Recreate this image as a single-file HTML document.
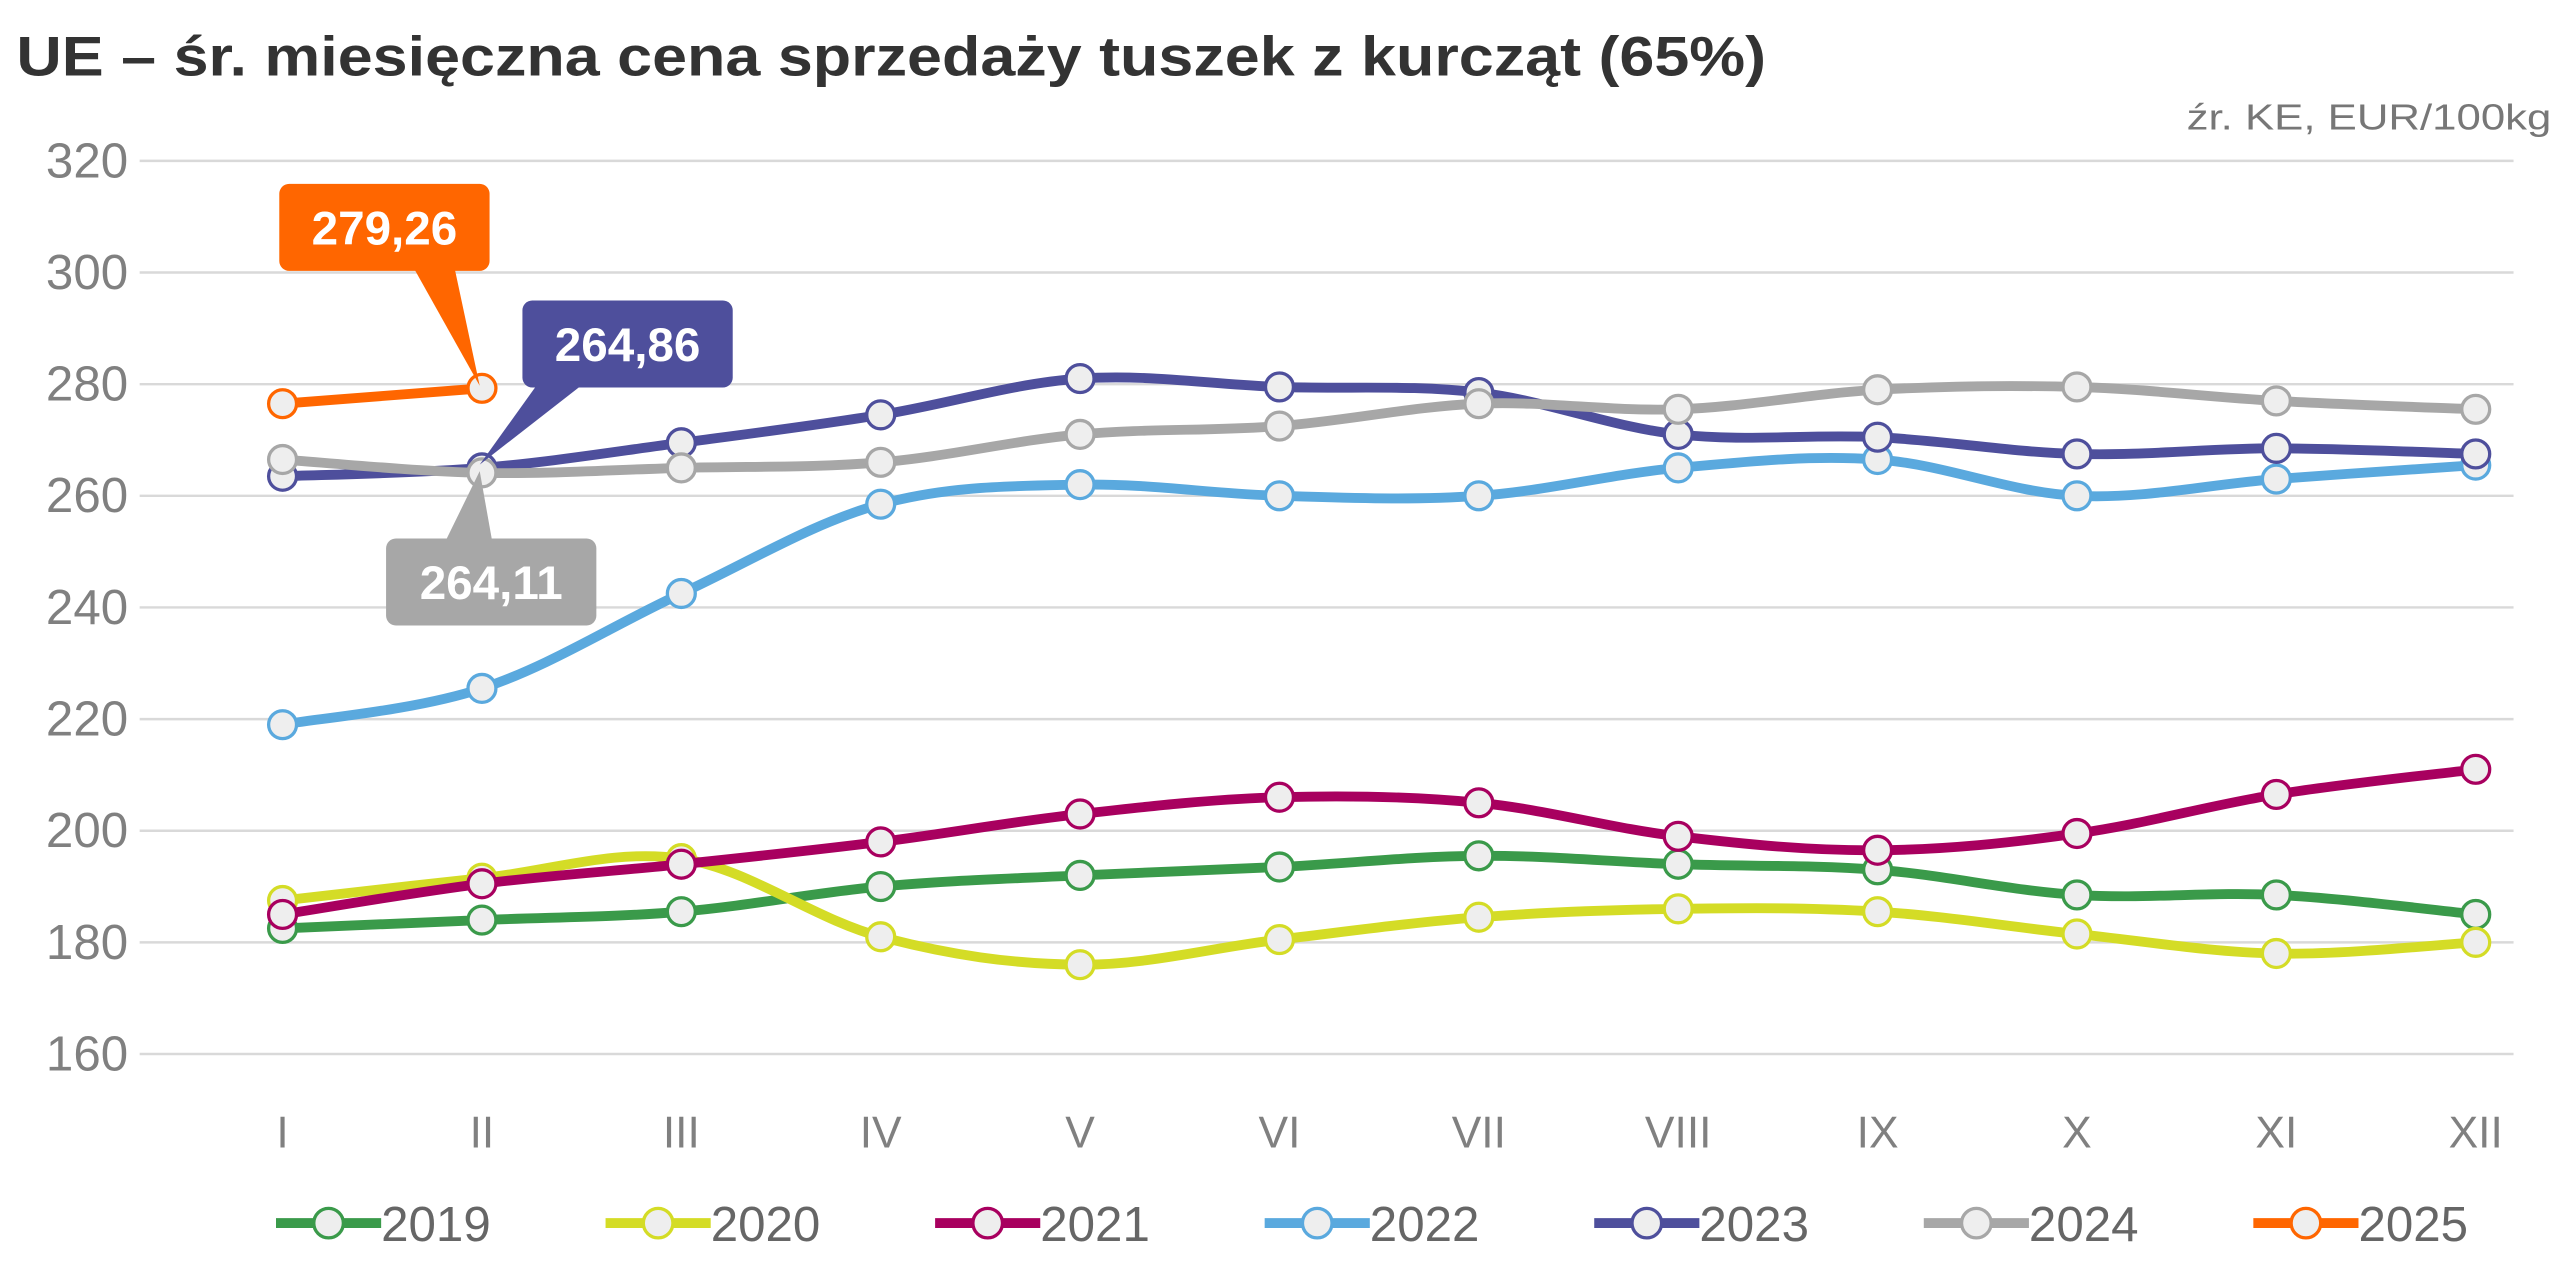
<!DOCTYPE html>
<html><head><meta charset="utf-8"><style>
html,body{margin:0;padding:0;background:#fff}
svg{display:block}
text{font-family:"Liberation Sans","DejaVu Sans",sans-serif}
</style></head><body>
<svg id="s" width="2576" height="1274" viewBox="0 0 1568 776" preserveAspectRatio="none" xmlns="http://www.w3.org/2000/svg">
<rect width="1568" height="776" fill="#fff"/>
<text x="10" y="46" font-size="34" font-weight="bold" fill="#333" textLength="1065" lengthAdjust="spacingAndGlyphs">UE – śr. miesięczna cena sprzedaży tuszek z kurcząt (65%)</text>
<text x="1553" y="79" font-size="22" fill="#777" text-anchor="end" textLength="222" lengthAdjust="spacingAndGlyphs">źr. KE, EUR/100kg</text>
<g id="grid"></g>
<g id="series"></g>
<g id="ann">
<polygon points="250,160 276,160 292,235" fill="#ff6600"/>
<rect x="170" y="112" width="128" height="53" rx="6" fill="#ff6600"/>
<text x="234" y="149" font-size="29" font-weight="bold" fill="#fff" text-anchor="middle">279,26</text>
<polygon points="330,230 360,230 292,283" fill="#4e4f9c"/>
<rect x="318" y="183" width="128" height="53" rx="6" fill="#4e4f9c"/>
<text x="382" y="220" font-size="29" font-weight="bold" fill="#fff" text-anchor="middle">264,86</text>
<polygon points="270,332 300,332 292,287" fill="#a7a7a7"/>
<rect x="235" y="328" width="128" height="53" rx="6" fill="#a7a7a7"/>
<text x="299" y="365" font-size="29" font-weight="bold" fill="#fff" text-anchor="middle">264,11</text>
</g>
<g id="legend"></g>
</svg>
<script>
var NS="http://www.w3.org/2000/svg";
function el(t,a,p,txt){var e=document.createElementNS(NS,t);for(var k in a)e.setAttribute(k,a[k]);if(txt)e.textContent=txt;p.appendChild(e);return e;}
var g=document.getElementById('grid'),S=document.getElementById('series'),L=document.getElementById('legend');
function Y(v){return 98+(320-v)*3.4;}
function X(i){return 172+i*121.36;}
for(var v=160;v<=320;v+=20){el('line',{x1:85,x2:1530,y1:Y(v),y2:Y(v),stroke:'#d9d9d9','stroke-width':1.5},g);
el('text',{x:78,y:Y(v)+10,'font-size':30,fill:'#808080','text-anchor':'end'},g,String(v));}
var mo=['I','II','III','IV','V','VI','VII','VIII','IX','X','XI','XII'];
mo.forEach(function(m,i){el('text',{x:X(i),y:699,'font-size':27,fill:'#808080','text-anchor':'middle'},g,m);});
var D=[
['#3a9a4a',[182.5,184,185.5,190,192,193.5,195.5,194,193,188.5,188.5,185],'2019'],
['#d4dc26',[187.5,191.5,195,181,176,180.5,184.5,186,185.5,181.5,178,180],'2020'],
['#a8005f',[185,190.5,194,198,203,206,205,199,196.5,199.5,206.5,211],'2021'],
['#5aa9de',[219,225.5,242.5,258.5,262,260,260,265,266.5,260,263,265.5],'2022'],
['#4e4f9c',[263.5,265,269.5,274.5,281,279.5,278.5,271,270.5,267.5,268.5,267.5],'2023'],
['#a7a7a7',[266.5,264.11,265,266,271,272.5,276.5,275.5,279,279.5,277,275.5],'2024'],
['#ff6600',[276.5,279.26],'2025']];
function path(p){var d='M'+p[0][0]+','+p[0][1];for(var i=0;i<p.length-1;i++){var p0=p[i-1]||p[i],p1=p[i],p2=p[i+1],p3=p[i+2]||p2;var t=0.17;
d+=' C'+(p1[0]+(p2[0]-p0[0])*t)+','+(p1[1]+(p2[1]-p0[1])*t)+' '+(p2[0]-(p3[0]-p1[0])*t)+','+(p2[1]-(p3[1]-p1[1])*t)+' '+p2[0]+','+p2[1];}return d;}
D.forEach(function(s){var pts=s[1].map(function(v,i){return [X(i),Y(v)];});
el('path',{d:path(pts),fill:'none',stroke:s[0],'stroke-width':6,'stroke-linejoin':'round','stroke-linecap':'round'},S);
pts.forEach(function(p){el('circle',{cx:p[0],cy:p[1],r:8.5,fill:'#eeeeee',stroke:s[0],'stroke-width':2},S);});});
D.forEach(function(s,i){var x0=168+i*200.6;
el('line',{x1:x0,x2:x0+64,y1:745,y2:745,stroke:s[0],'stroke-width':6},L);
el('circle',{cx:x0+32,cy:745,r:9,fill:'#eeeeee',stroke:s[0],'stroke-width':2},L);
el('text',{x:x0+64,y:756,'font-size':30,fill:'#666'},L,s[2]);});
</script>
</body></html>
